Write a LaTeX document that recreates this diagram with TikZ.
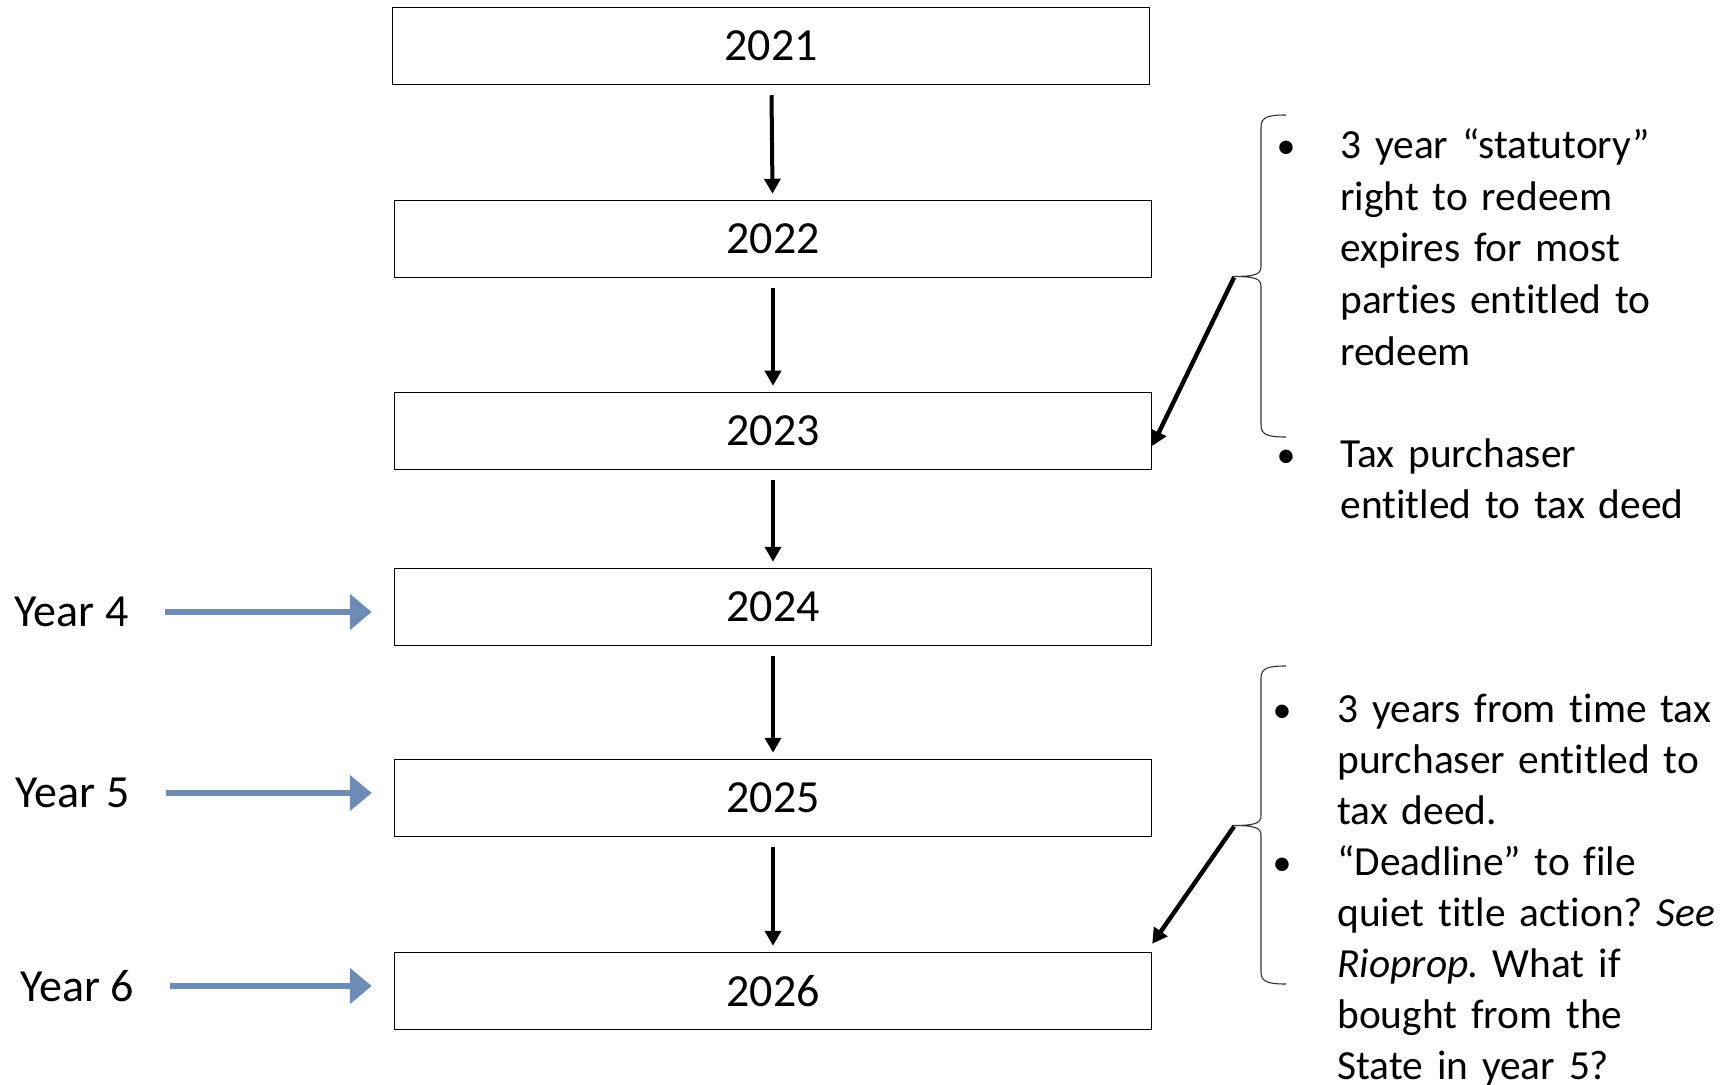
\documentclass[tikz,border=0pt]{standalone}
\usepackage{fontspec}
\setmainfont{Carlito}[Ligatures=CommonOff]
\usetikzlibrary{arrows.meta}
\definecolor{yrblue}{RGB}{108,139,181}
\frenchspacing

\begin{document}
\begin{tikzpicture}[x=0.5pt,y=-0.5pt,
  yearbox/.style={draw,line width=0.75pt,minimum width=378.5pt,minimum height=38.5pt,
    inner sep=0pt,font=\fontsize{23}{28}\selectfont},
  yearlab/.style={inner sep=0pt,font=\fontsize{23}{28}\selectfont},
  flow/.style={line width=2pt,-{Triangle[length=7.5pt,width=8pt]}},
  pointer/.style={line width=3pt,yrblue,-{Triangle[length=11pt,width=17.5pt]}},
  note/.style={inner sep=0pt,anchor=base west,text width=205pt,align=left,
    font=\fontsize{20.7}{25.85}\selectfont},
  dot/.style={inner sep=0pt,anchor=base,font=\fontsize{19}{25}\selectfont},
  brc/.style={line width=0.55pt,black!80}]
\useasboundingbox (0,0) rectangle (1724,1085);

% the years
\node[yearbox] (y2021) at (771,46) {2021};
\node[yearbox] (y2022) at (773,239) {2022};
\node[yearbox] (y2023) at (773,431) {2023};
\node[yearbox] (y2024) at (773,607) {2024};
\node[yearbox] (y2025) at (773,798) {2025};
\node[yearbox] (y2026) at (773,991) {2026};
\foreach \a/\b in {2021/2022,2022/2023,2023/2024,2024/2025,2025/2026}
\draw[flow,shorten <=5pt,shorten >=3pt] (y\a) -- (y\b);

% year counters on the left
\node[yearlab] (lab4) at (71.5,612) {Year 4};
\node[yearlab] (lab5) at (72.5,793) {Year 5};
\node[yearlab] (lab6) at (77,986) {Year 6};
\draw[pointer,shorten <=18pt,shorten >=11pt] (lab4.east) -- (lab4.east -| y2024.west);
\draw[pointer,shorten <=18pt,shorten >=11pt] (lab5.east) -- (lab5.east -| y2025.west);
\draw[pointer,shorten <=18pt,shorten >=11pt] (lab6.east) -- (lab6.east -| y2026.west);

% braces
\foreach \t/\m/\b/\n in {115/276.5/437/1,666/825.5/984/2} {
\draw[brc] (1286,\t) .. controls (1268,\t) and (1261,\t+2) .. (1261,\t+12)
  -- (1261,\m-10) .. controls (1261,\m-2) and (1255,\m) .. (1232,\m)
  .. controls (1255,\m) and (1261,\m+2) .. (1261,\m+10)
  -- (1261,\b-12) .. controls (1261,\b-2) and (1268,\b) .. (1286,\b);
\coordinate (tip\n) at (1234,\m+1);
}
\draw[flow,line width=2.2pt] (tip1) -- ([yshift=-7.5pt]y2023.east);
\draw[flow,line width=2.2pt] (tip2) -- ([yshift=4pt]y2026.north east);

% notes, first group
\node[dot] (b11) at (1286,158.5) {•};
\node[note] (n11) at (1340,158.5) {3 year “statutory”\\ right to redeem\\ expires for most\\ parties entitled to\\ redeem};
\node[dot] (b12) at (1286,467) {•};
\node[note] (n12) at (1340,467) {Tax purchaser\\ entitled to tax deed};

% notes, second group
\node[dot] (b21) at (1282,722) {•};
\node[note,font=\fontsize{20.7}{25.5}\selectfont] (n21) at (1337,722) {3 years from time tax\\ purchaser entitled to\\ tax deed.};
\node[dot] (b22) at (1282,875) {•};
\node[note,font=\fontsize{20.7}{25.5}\selectfont] (n22) at (1337,875) {“Deadline” to file\\ quiet title action? \textit{See}\\ \textit{Rioprop.} What if\\ bought from the\\ State in year 5?};
\end{tikzpicture}
\end{document}
